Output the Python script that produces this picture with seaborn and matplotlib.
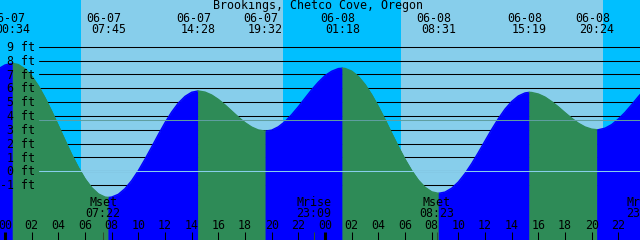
import numpy as np
import pandas as pd
import matplotlib
matplotlib.use("Agg")
import matplotlib.pyplot as plt
import seaborn as sns

# ---------------- data ----------------
title = "Brookings, Chetco Cove, Oregon"

# half-hourly readings, hours since 06-07 00:00, from -1.0 to 48.0
reading_hours = [i / 2 for i in range(-2, 97)]
reading_ft = [6.95, 7.40, 7.68, 7.80, 7.71, 7.40, 6.88, 6.17, 5.30, 4.33,
              3.29, 2.23, 1.20, 0.27, -0.55, -1.19, -1.64, -1.87, -1.87, -1.67,
              -1.26, -0.68, 0.04, 0.87, 1.75, 2.65, 3.51, 4.28, 4.93, 5.41,
              5.71, 5.80, 5.72, 5.51, 5.19, 4.79, 4.35, 3.91, 3.51, 3.19,
              2.98, 2.90, 2.97, 3.21, 3.59, 4.09, 4.66, 5.28, 5.89, 6.44,
              6.91, 7.23, 7.42, 7.43, 7.24, 6.85, 6.27, 5.53, 4.67, 3.73,
              2.74, 1.77, 0.86, 0.04, -0.65, -1.16, -1.49, -1.60, -1.51, -1.23,
              -0.78, -0.17, 0.55, 1.35, 2.19, 3.02, 3.80, 4.49, 5.04, 5.44,
              5.66, 5.69, 5.58, 5.36, 5.03, 4.65, 4.23, 3.83, 3.47, 3.20,
              3.04, 3.00, 3.11, 3.37, 3.77, 4.25, 4.81, 5.39, 5.94]

tide_dates = ["06-07", "06-07", "06-07", "06-07", "06-08", "06-08", "06-08", "06-08"]
tide_clock = ["00:34", "07:45", "14:28", "19:32", "01:18", "08:31", "15:19", "20:24"]
tide_ft = [7.8, -1.9, 5.8, 2.9, 7.45, -1.6, 5.7, 3.0]

moon_names = ["Mset", "Mrise", "Mset", "Mrise"]
moon_dates = ["06-07", "06-07", "06-08", "06-08"]
moon_clock = ["07:22", "23:09", "08:23", "23:56"]

sunrise_dates = ["06-07", "06-08"]
sunrise_clock = ["05:42", "05:41"]
sunset_dates = ["06-07", "06-08"]
sunset_clock = ["20:51", "20:51"]

ft_levels = [-1, 0, 1, 2, 3, 4, 5, 6, 7, 8, 9]
mean_level = 3.68

# ---------------- layout helpers ----------------
W, H = 640, 240
PX_PER_HR = 40 / 3
X0 = 5.0            # pixel of 06-07 00:00
PX_PER_FT = 13.83
Y0 = 171.2          # pixel of 0 ft


def px_x(p):
    return (p - X0) / PX_PER_HR


def px_y(p):
    return (Y0 - p) / PX_PER_FT


def hrs(date, clock):
    day = int(date[3:])
    hh, mm = clock.split(":")
    return (day - 7) * 24 + int(hh) + int(mm) / 60


XMIN, XMAX = px_x(0), px_x(W)
YMIN, YMAX = px_y(H), px_y(0)

NIGHT = "#00BFFF"
DAY = "#87CEEB"
RISE = "#0000FF"
FALL = "#2E8B57"

sns.set_style("white")
plt.rcParams["font.family"] = ["DejaVu Sans Mono"]
FS = 8.4

fig = plt.figure(figsize=(W / 100, H / 100), dpi=100)
ax = fig.add_axes([0, 0, 1, 1])

# ---------------- day / night background ----------------
rises = [hrs(d, c) for d, c in zip(sunrise_dates, sunrise_clock)]
sets = [hrs(d, c) for d, c in zip(sunset_dates, sunset_clock)]
edges = [XMIN] + sorted(rises + sets) + [XMAX]
for i in range(len(edges) - 1):
    ax.axvspan(edges[i], edges[i + 1], color=NIGHT if i % 2 == 0 else DAY,
               lw=0, zorder=0)

# ---------------- level lines (behind water) ----------------
for lv in ft_levels:
    ax.axhline(lv, xmin=39 / W, xmax=1, color="black", lw=0.75, zorder=1)

# ---------------- tide curve ----------------
ext_t = [hrs(d, c) for d, c in zip(tide_dates, tide_clock)]
df = pd.DataFrame({"t": reading_hours + ext_t, "h": reading_ft + tide_ft})
df = df.sort_values("t").drop_duplicates("t").reset_index(drop=True)

bounds = [df.t.min()] + ext_t + [df.t.max()]
parts = []
for i in range(len(bounds) - 1):
    seg = df[(df.t >= bounds[i]) & (df.t <= bounds[i + 1])].copy()
    rising = seg.h.iloc[-1] > seg.h.iloc[0]
    seg["dir"] = "rising" if rising else "falling"
    seg["seg"] = i
    parts.append(seg)
    col = RISE if rising else FALL
    ax.fill_between(seg.t, seg.h, YMIN, color=col, ec=col, lw=0.5, zorder=2)
segs = pd.concat(parts, ignore_index=True)
sns.lineplot(data=segs, x="t", y="h", hue="dir", units="seg", estimator=None,
             palette={"rising": RISE, "falling": FALL}, legend=False,
             lw=1.0, ax=ax, zorder=2.5)
ax.set_xlim(XMIN, XMAX)
ax.set_ylim(YMIN, YMAX)
ax.set_axis_off()

# ---------------- overlay lines ----------------
ax.axhline(mean_level, xmin=39 / W, xmax=1, color="#5F9EA0", lw=0.75, zorder=3)
ax.axhline(0, xmin=39 / W, xmax=1, color="#87CEEB", lw=0.75, zorder=3)

# ---------------- y labels ----------------
for lv in ft_levels:
    ax.text(px_x(35), lv - 4.2 / PX_PER_FT, f"{lv} ft", ha="right",
            va="baseline", fontsize=FS, color="black", zorder=4)

# ---------------- top labels ----------------
ax.text(px_x(318), px_y(9.3), title, ha="center", va="baseline",
        fontsize=FS, color="black", zorder=4)
for t, d, c in zip(ext_t, tide_dates, tide_clock):
    ax.annotate(d, (t, px_y(21.7)), xytext=(-4.5, 0), textcoords="offset pixels",
                ha="center", va="baseline", fontsize=FS, color="black",
                zorder=4, annotation_clip=False)
    ax.text(t, px_y(33), c, ha="center", va="baseline", fontsize=FS,
            color="black", zorder=4)

# ---------------- bottom hour ticks ----------------
for h in range(0, 47, 2):
    thick = (h % 24 == 0)
    ax.vlines(h, YMIN, px_y(231.5), color="black", lw=2.2 if thick else 0.75,
              zorder=4)
    ax.text(h, px_y(229.3), f"{h % 24:02d}", ha="center", va="baseline",
            fontsize=FS, color="black", zorder=4)

# ---------------- moon events ----------------
for n, d, c in zip(moon_names, moon_dates, moon_clock):
    t = hrs(d, c)
    ax.vlines(t, YMIN, px_y(231.5), color="#2F4F2F", lw=0.75, zorder=4)
    ax.text(t, px_y(205.5), n, ha="center", va="baseline", fontsize=FS,
            color="black", zorder=4, clip_on=False)
    ax.text(t, px_y(217), c, ha="center", va="baseline", fontsize=FS,
            color="black", zorder=4, clip_on=False)

fig.savefig("out.png", dpi=100)
